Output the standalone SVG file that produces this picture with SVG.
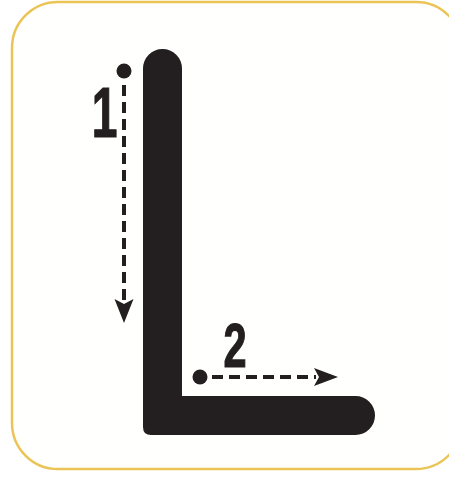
<svg xmlns="http://www.w3.org/2000/svg" width="449" height="478" viewBox="0 0 449 478">
  <defs>
    <style>
      .frame { fill: #fffffd; stroke: #ebc456; stroke-width: 2.5; }
      .shape { fill: #231f20; }
      .dash { fill: none; stroke: #231f20; stroke-width: 4; stroke-dasharray: 11 6; }
      .num { font-family: "Liberation Sans", Arial, sans-serif; font-weight: bold; fill: #231f20; stroke: #231f20; stroke-width: 1.2; }
    </style>
  </defs>
  <rect x="0" y="0" width="449" height="478" fill="#ffffff"/>
  <rect class="frame" x="12" y="2" width="450" height="467" rx="46" ry="46"/>

  <g id="L-shape">
    <path class="shape" d="M143,68.5 A19.5,19.5 0 0 1 182,68.5 L182,396 L355.5,396 A19.5,19.5 0 0 1 355.5,435 L151,435 Q143,435 143,427 Z"/>
  </g>

  <g id="connectors">
    <g id="arrow-1">
      <circle class="shape" cx="124" cy="71" r="7.5"/>
      <path class="dash" d="M124,85 L124,300"/>
      <path class="shape" d="M124,323 L114.5,299 L124,304 L133.5,299 Z"/>
    </g>
    <g id="arrow-2">
      <circle class="shape" cx="200" cy="377" r="7.5"/>
      <path class="dash" d="M212,377 L316,377"/>
      <path class="shape" d="M338,377 L314,368 L319,377 L314,386 Z"/>
    </g>
  </g>

  <g id="label-1">
    <text class="num" transform="translate(104.5,136.5) scale(0.66,1.01)" text-anchor="middle" font-size="70">1</text>
  </g>
  <g id="label-2">
    <text class="num" transform="translate(235,366.5) scale(0.68,1.04)" text-anchor="middle" font-size="61">2</text>
  </g>
</svg>
